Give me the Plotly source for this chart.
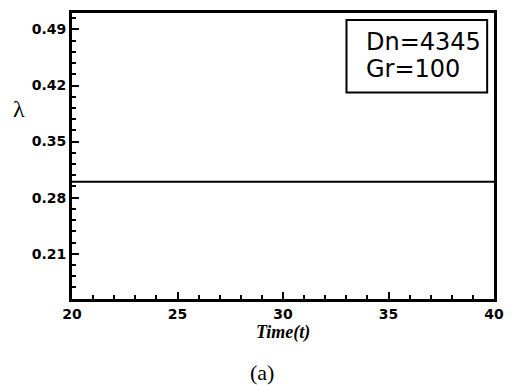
import plotly.graph_objects as go

time_t = [20, 40]
lam = [0.30, 0.30]
x_ticks = [20, 25, 30, 35, 40]
y_ticks = [0.21, 0.28, 0.35, 0.42, 0.49]
y_tick_labels = ["0.21", "0.28", "0.35", "0.42", "0.49"]
legend_lines = ["Dn=4345", "Gr=100"]

fig = go.Figure()
fig.add_trace(go.Scatter(x=time_t, y=lam, mode="lines",
                         line=dict(color="black", width=2), showlegend=False))

tickfont = dict(family="DejaVu Sans", size=14, color="black", weight="bold")
fig.update_layout(
    width=514, height=385,
    margin=dict(l=72, r=10, t=11, b=86),
    paper_bgcolor="white", plot_bgcolor="white",
    xaxis=dict(range=[20, 40], tickvals=x_ticks, ticktext=[str(v) for v in x_ticks],
               ticks="inside", ticklen=7, tickwidth=2, tickcolor="black",
               showline=True, linewidth=3, linecolor="black", mirror=True,
               showgrid=False, zeroline=False, tickfont=tickfont,
               minor=dict(dtick=1, tick0=20, ticks="inside", ticklen=4, tickwidth=1.5,
                          tickcolor="black", showgrid=False)),
    yaxis=dict(range=[0.1535, 0.5105], tickvals=y_ticks, ticktext=y_tick_labels,
               ticks="inside", ticklen=7, tickwidth=2, tickcolor="black",
               showline=True, linewidth=3, linecolor="black", mirror=True,
               showgrid=False, zeroline=False, tickfont=tickfont,
               minor=dict(dtick=0.014, tick0=0.21, ticks="inside", ticklen=4, tickwidth=1.5,
                          tickcolor="black", showgrid=False)),
)

# legend box
fig.add_shape(type="rect", xref="paper", yref="paper",
              x0=(353 - 72) / 432, x1=(497 - 72) / 432,
              y0=(299 - 91) / 288, y1=(299 - 18) / 288,
              line=dict(color="black", width=2), fillcolor="white")
fig.add_annotation(xref="paper", yref="paper", x=(371 - 72) / 432, y=(299 - 40) / 288,
                   text=legend_lines[0], showarrow=False, xanchor="left", yanchor="middle",
                   font=dict(family="DejaVu Sans", size=24, color="black"))
fig.add_annotation(xref="paper", yref="paper", x=(371 - 72) / 432, y=(299 - 67) / 288,
                   text=legend_lines[1], showarrow=False, xanchor="left", yanchor="middle",
                   font=dict(family="DejaVu Sans", size=24, color="black"))

# axis titles
fig.add_annotation(xref="paper", yref="paper", x=(18 - 72) / 432, y=(299 - 108) / 288,
                   text="λ", showarrow=False, xanchor="center", yanchor="middle",
                   font=dict(family="Liberation Serif", size=24, color="black"))
fig.add_annotation(xref="paper", yref="paper", x=(288 - 72) / 432, y=(299 - 321) / 288,
                   text="<b><i>Time(t)</i></b>", showarrow=False, xanchor="center", yanchor="top",
                   borderpad=0, font=dict(family="Liberation Serif", size=18, color="black"))
fig.add_annotation(xref="paper", yref="paper", x=(266 - 72) / 432, y=(299 - 373) / 288,
                   text="(a)", showarrow=False, xanchor="center", yanchor="middle",
                   font=dict(family="Liberation Serif", size=22, color="black"))

fig.write_html("out.html")
